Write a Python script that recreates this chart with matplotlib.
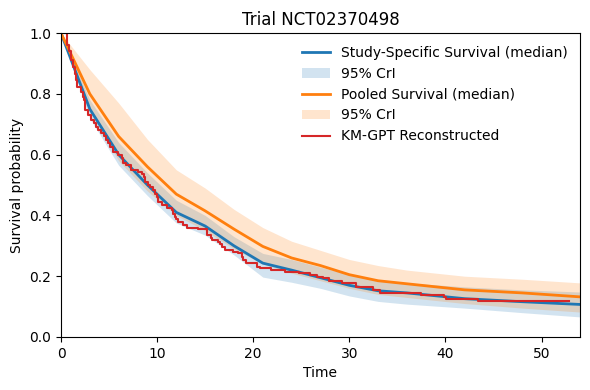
import numpy as np
import matplotlib.pyplot as plt

t_grid = [0, 3, 6, 9, 12, 15, 18, 21, 24, 27, 30, 33, 36, 42, 48, 54]
study_med = [1.0, 0.75, 0.60, 0.50, 0.41, 0.365, 0.30, 0.243, 0.22, 0.195, 0.17, 0.152, 0.145, 0.126, 0.116, 0.107]
study_lo = [1.0, 0.72, 0.565, 0.465, 0.375, 0.335, 0.27, 0.197, 0.18, 0.16, 0.135, 0.117, 0.108, 0.095, 0.08, 0.066]
study_hi = [1.0, 0.78, 0.64, 0.54, 0.45, 0.40, 0.33, 0.275, 0.255, 0.23, 0.205, 0.185, 0.178, 0.165, 0.155, 0.148]
pooled_med = [1.0, 0.80, 0.66, 0.56, 0.47, 0.415, 0.355, 0.298, 0.26, 0.235, 0.205, 0.185, 0.175, 0.155, 0.145, 0.132]
pooled_lo = [1.0, 0.74, 0.58, 0.48, 0.40, 0.35, 0.29, 0.24, 0.21, 0.185, 0.16, 0.14, 0.13, 0.11, 0.095, 0.082]
pooled_hi = [1.0, 0.88, 0.77, 0.65, 0.55, 0.49, 0.42, 0.36, 0.315, 0.285, 0.255, 0.235, 0.22, 0.20, 0.19, 0.178]

# reconstructed KM steps
km_t = [0, 0.6, 0.8, 1.07, 1.25, 1.42, 1.6, 1.7, 2.1, 2.3, 2.4, 2.46, 2.8, 3.15, 3.4, 3.67,
        3.9, 4.2, 4.45, 4.7, 4.9, 5.06, 5.4, 5.9, 6.3, 6.5, 6.8, 7.3, 8.0, 8.4, 8.6, 8.7,
        9.07, 9.3, 9.6, 9.8, 9.95, 10.1, 10.5, 11.0, 11.5, 11.7, 11.85, 12.0, 12.2, 12.7,
        13.1, 14.3, 15.2, 15.6, 15.7, 16.35, 16.5, 16.7, 17.05, 17.9, 18.4, 18.8, 18.95,
        19.3, 20.35, 20.7, 21.8, 23.3, 24.8, 25.9, 26.6, 27.3, 27.9, 29.2, 30.7, 32.5,
        33.2, 37.5, 39.9, 40.1, 43.4, 52.9]
km_s = [1.0, 0.96, 0.94, 0.91, 0.89, 0.867, 0.845, 0.823, 0.807, 0.79, 0.78, 0.747, 0.73, 0.714, 0.703, 0.692,
        0.68, 0.67, 0.66, 0.648, 0.637, 0.626, 0.61, 0.599, 0.588, 0.571, 0.566, 0.549, 0.544, 0.538, 0.525, 0.51,
        0.5, 0.492, 0.484, 0.47, 0.46, 0.445, 0.434, 0.423, 0.418, 0.405, 0.396, 0.388, 0.379, 0.368,
        0.36, 0.355, 0.336, 0.325, 0.319, 0.314, 0.305, 0.297, 0.286, 0.281, 0.275, 0.264, 0.253,
        0.242, 0.231, 0.226, 0.22, 0.215, 0.21, 0.204, 0.199, 0.193, 0.185, 0.176, 0.165, 0.155,
        0.146, 0.138, 0.131, 0.125, 0.119, 0.119]

fig, ax = plt.subplots(figsize=(5.9, 3.9), dpi=100)

ax.plot(t_grid, study_med, color='C0', lw=2, label='Study-Specific Survival (median)')
ax.fill_between(t_grid, study_lo, study_hi, color='C0', alpha=0.2, lw=0, label='95% CrI')
ax.plot(t_grid, pooled_med, color='C1', lw=2, label='Pooled Survival (median)')
ax.fill_between(t_grid, pooled_lo, pooled_hi, color='C1', alpha=0.2, lw=0, label='95% CrI')
ax.step(km_t, km_s, where='post', color='tab:red', lw=1.5, label='KM-GPT Reconstructed')

ax.set_xlim(0, 54)
ax.set_ylim(0, 1)
ax.set_xlabel('Time')
ax.set_ylabel('Survival probability')
ax.set_title('Trial NCT02370498')
ax.legend(frameon=False, loc='upper right')

plt.subplots_adjust(left=0.1034, right=0.983, top=0.915, bottom=0.136)
plt.savefig('out.png')
